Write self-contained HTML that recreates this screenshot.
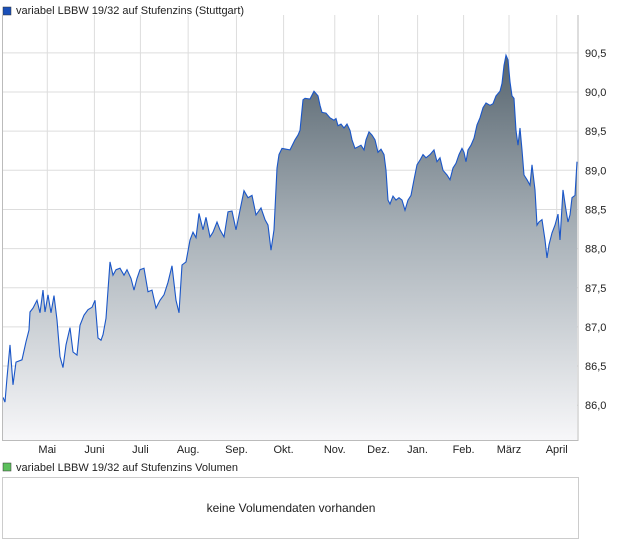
<!DOCTYPE html>
<html><head><meta charset="utf-8"><style>
body{margin:0;background:#fff;font-family:"Liberation Sans",sans-serif;}
svg text{font-family:"Liberation Sans",sans-serif;}
</style></head><body>
<svg id="c" width="620" height="546" xmlns="http://www.w3.org/2000/svg">
<defs><linearGradient id="g" x1="0" y1="0" x2="0" y2="1">
<stop offset="0" stop-color="#56646e"/><stop offset="0.45" stop-color="#a7b0b7"/><stop offset="1" stop-color="#f7f7f9"/></linearGradient></defs>
<rect x="3" y="7" width="8" height="8" fill="#1a4fb8" stroke="#333" stroke-width="0.5"/>
<text x="16" y="14" font-size="11" fill="#222">variabel LBBW 19/32 auf Stufenzins (Stuttgart)</text>
<g id="grid"></g><g id="marks"></g><g id="axes"></g>
<rect x="3" y="463" width="8" height="8" fill="#5cc05c" stroke="#333" stroke-width="0.5"/>
<text x="16" y="471" font-size="11" fill="#222">variabel LBBW 19/32 auf Stufenzins Volumen</text>
<rect x="2.5" y="477.5" width="576" height="61" fill="#fff" stroke="#ccc"/>
<text x="291" y="512" font-size="12" fill="#222" text-anchor="middle">keine Volumendaten vorhanden</text>
</svg>
<script>
const months=["Mai","Juni","Juli","Aug.","Sep.","Okt.","Nov.","Dez.","Jan.","Feb.","März","April"];
const monthPos=[0.077,0.159,0.239,0.322,0.406,0.488,0.577,0.653,0.721,0.801,0.880,0.963];
const yTicks=[86.0,86.5,87.0,87.5,88.0,88.5,89.0,89.5,90.0,90.5];
const days=[3,5,7,10,13,16,22,26,29,30,33,37,40,43,45,48,51,54,57,60,63,66,70,73,77,80,84,88,92,95,98,101,103,106,110,113,116,120,124,127,131,134,137,140,144,148,152,156,160,164,168,172,176,179,182,186,190,193,196,199,203,206,210,213,217,220,224,228,232,236,240,244,248,252,256,261,265,268,271,274,277,279,282,290,295,298,300,303,305,310,314,318,320,322,326,330,334,336,338,341,344,347,350,352,355,358,361,364,366,369,372,375,378,381,384,386,388,390,393,396,399,402,405,408,411,414,417,420,423,426,430,434,437,440,443,447,450,453,456,459,462,464,466,468,471,474,477,480,483,486,490,493,496,500,502,504,506,508,510,512,514,516,518,520,522,524,527,530,532,535,537,539,542,545,547,549,552,555,558,560,563,566,568,570,572,575,577];
const prices=[86.10,86.04,86.35,86.77,86.26,86.55,86.58,86.81,86.96,87.19,87.24,87.34,87.18,87.47,87.19,87.41,87.18,87.40,87.09,86.62,86.48,86.77,86.99,86.68,86.64,87.02,87.15,87.22,87.25,87.34,86.86,86.83,86.90,87.11,87.83,87.66,87.73,87.75,87.66,87.73,87.62,87.47,87.62,87.73,87.75,87.45,87.47,87.24,87.34,87.41,87.57,87.78,87.34,87.18,87.79,87.83,88.11,88.21,88.14,88.45,88.24,88.40,88.15,88.21,88.34,88.24,88.15,88.47,88.48,88.24,88.49,88.74,88.65,88.68,88.43,88.52,88.37,88.30,87.98,88.24,89.03,89.20,89.28,89.26,89.39,89.45,89.51,89.90,89.92,89.91,90.01,89.95,89.83,89.74,89.73,89.67,89.64,89.66,89.57,89.59,89.54,89.59,89.51,89.39,89.28,89.30,89.32,89.26,89.39,89.49,89.45,89.39,89.23,89.27,89.20,89.00,88.62,88.57,88.67,88.62,88.65,88.62,88.49,88.62,88.68,88.88,89.07,89.13,89.20,89.16,89.20,89.26,89.11,89.16,89.00,88.94,88.88,89.03,89.09,89.20,89.28,89.23,89.11,89.26,89.32,89.41,89.58,89.67,89.80,89.86,89.83,89.85,89.95,90.01,90.11,90.34,90.47,90.41,90.13,89.95,89.92,89.51,89.32,89.54,89.26,88.94,88.88,88.81,89.07,88.75,88.30,88.34,88.37,88.11,87.88,88.05,88.20,88.30,88.44,88.11,88.75,88.49,88.34,88.43,88.65,88.68,89.11];
const L=3,R=578,T=15,B=440,D0=3,D1=578;
const ns="http://www.w3.org/2000/svg";
function y(v){return 92+(90-v)*78.3;}
function xd(d){return L+(d-D0)/(D1-D0)*(R-L);}
function mk(t,a,p){const e=document.createElementNS(ns,t);for(const k in a)e.setAttribute(k,a[k]);document.getElementById(p).appendChild(e);return e;}
yTicks.forEach(v=>{const l=mk('line',{x1:L,x2:R,y1:y(v),y2:y(v),stroke:'#ddd'},'grid');


const t=mk('text',{x:585,y:y(v)+4,'font-size':11,fill:'#222'},'axes');t.textContent=v.toFixed(1).replace('.',',');

});
months.forEach((m,i)=>{const px=L+monthPos[i]*(R-L);const l=mk('line',{x1:px,x2:px,y1:T,y2:B,stroke:'#ddd'},'grid');


const t=mk('text',{x:px,y:453,'font-size':11,fill:'#222','text-anchor':'middle'},'axes');t.textContent=m;

});
const n=Math.min(days.length,prices.length);
let d='',a='M'+xd(days[0])+','+B;
for(let i=0;i<n;i++){const px=xd(days[i]).toFixed(1),py=y(prices[i]).toFixed(1);d+=(i?'L':'M')+px+','+py;a+='L'+px+','+py;}
a+='L'+xd(days[n-1])+','+B+'Z';
const ar=mk('path',{d:a,fill:'url(#g)'},'marks');


const ln=mk('path',{d:d,fill:'none',stroke:'#1a56c8','stroke-width':1.1},'marks');


const ax=mk('path',{d:`M${L-0.5},${T}V${B+0.5}H${R}V${T}`,fill:'none',stroke:'#bbb'},'axes');


</script>
</body></html>
